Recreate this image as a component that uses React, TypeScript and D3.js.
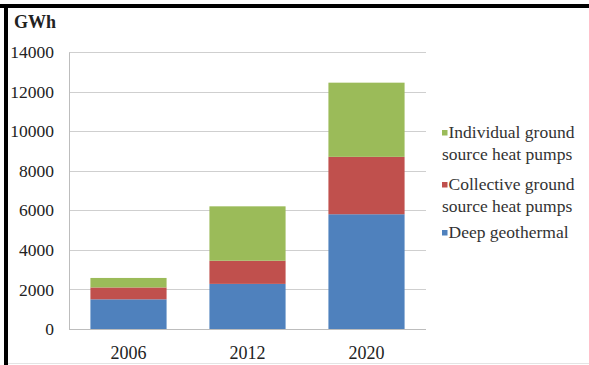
import React from "react";
import * as d3 from "d3";

const years = ["2006", "2012", "2020"];
const deepGeothermal = [1500, 2280, 5800];
const collectiveGSHP = [600, 1170, 2900];
const individualGSHP = [480, 2750, 3750];
const yTicks = [0, 2000, 4000, 6000, 8000, 10000, 12000, 14000];
const seriesNames = ["Deep geothermal", "Collective ground source heat pumps", "Individual ground source heat pumps"];
const seriesColors = ["#4f81bd", "#c0504d", "#9bbb59"];
const legendLines = [
  ["Individual ground", "source heat pumps"],
  ["Collective ground", "source heat pumps"],
  ["Deep geothermal"],
];
const legendColors = ["#9bbb59", "#c0504d", "#4f81bd"];

const FONT = "Liberation Serif, Times New Roman, serif";

export default function App() {
  const W = 589, H = 365;
  const x = d3.scaleBand<string>().domain(years).range([69, 426]).paddingInner(0.36).paddingOuter(0.18);
  const y = d3.scaleLinear().domain([0, 14000]).range([329, 52]);
  const table = years.map((yr, i) => ({
    year: yr,
    deep: deepGeothermal[i],
    coll: collectiveGSHP[i],
    ind: individualGSHP[i],
  }));
  const stack = d3.stack<any>().keys(["deep", "coll", "ind"]);
  const layers = stack(table);
  const legendY = [138, 190, 238];
  const ts = (size: number, weight: string = "normal") => ({ fontFamily: FONT, fontSize: size + "px", fontWeight: weight as any });

  return (
    <svg width={W} height={H} style={{ position: "absolute", left: 0, top: 0, background: "#fff" }}>
      <rect x={0} y={0} width={W} height={H} fill="#fff" />
      {/* borders */}
      <rect x={0} y={4} width={W} height={4} fill="#000" />
      <rect x={4} y={4} width={4} height={H - 4} fill="#000" />
      <line x1={8} x2={W} y1={363.5} y2={363.5} stroke="#e4e4e4" />
      {/* gridlines */}
      {yTicks.map((t) => (
        <line key={t} x1={69} x2={426} y1={Math.round(y(t)) + 0.5} y2={Math.round(y(t)) + 0.5}
          stroke={t === 0 ? "#bdbdbd" : "#cfcfcf"} strokeWidth={1} />
      ))}
      <line x1={69.5} x2={69.5} y1={Math.round(y(14000)) + 0.5} y2={Math.round(y(0)) + 0.5} stroke="#bdbdbd" />
      {/* bars */}
      {layers.map((layer, li) => (
        <g key={li} fill={seriesColors[li]}>
          {layer.map((d: any, i: number) => (
            <rect key={i} x={x(years[i])} width={x.bandwidth()} y={y(d[1])} height={y(d[0]) - y(d[1])}>
              <title>{seriesNames[li]}</title>
            </rect>
          ))}
        </g>
      ))}
      {/* y tick labels */}
      {yTicks.map((t) => (
        <text key={t} x={54} y={y(t)} dy="0.35em" textAnchor="end" style={ts(17.5)} fill="#222">{t}</text>
      ))}
      {/* x labels */}
      {years.map((yr) => (
        <text key={yr} x={(x(yr) as number) + x.bandwidth() / 2} y={359} textAnchor="middle" style={ts(18)} fill="#222">{yr}</text>
      ))}
      {/* axis title */}
      <text x={14} y={28} style={ts(18, "bold")} fill="#222">GWh</text>
      {/* legend */}
      {legendLines.map((lines, i) => (
        <g key={i}>
          <rect x={442} y={legendY[i] - 8} width={5.5} height={5.5} fill={legendColors[i]} />
          {lines.map((ln, j) => (
            <text key={j} x={j === 0 ? 448.5 : 442} y={legendY[i] + j * 21.5} style={ts(17.5)} fill="#333">{ln}</text>
          ))}
        </g>
      ))}
    </svg>
  );
}
